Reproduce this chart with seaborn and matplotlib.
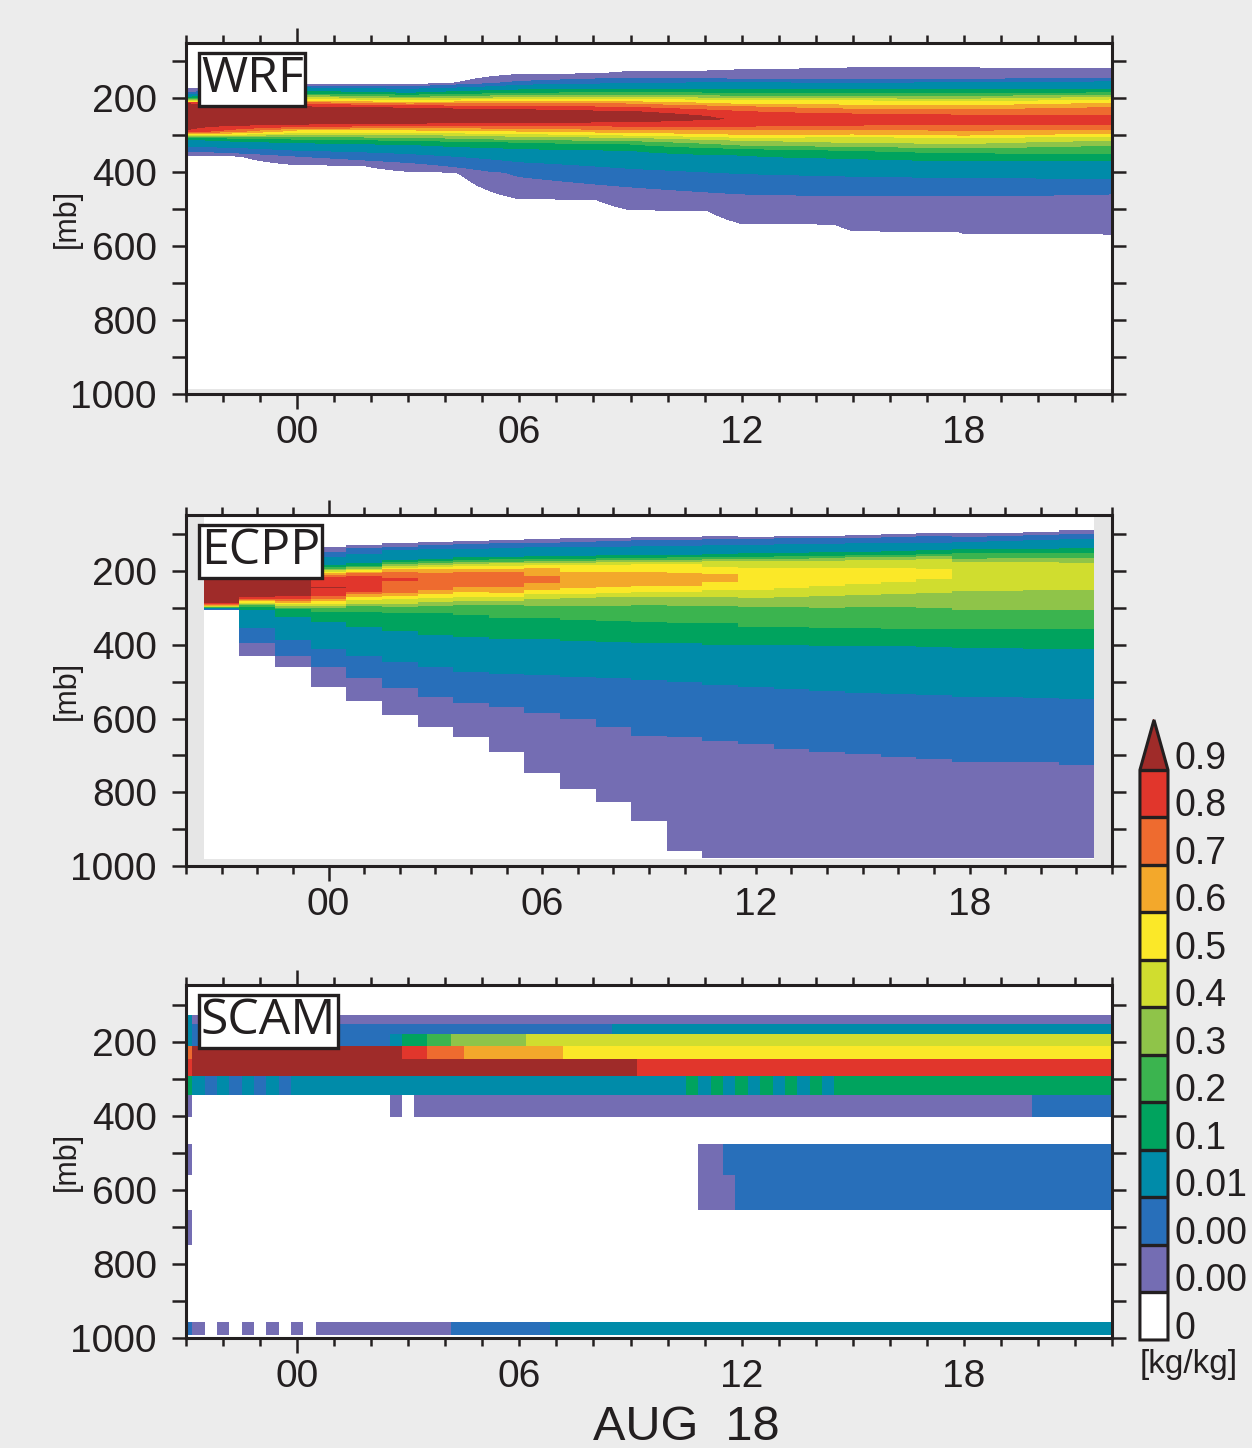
import numpy as np
import matplotlib
matplotlib.use("Agg")
import matplotlib.pyplot as plt
import seaborn as sns
from matplotlib.colors import ListedColormap, BoundaryNorm
from matplotlib.cm import ScalarMappable
from matplotlib.ticker import FixedLocator, MultipleLocator
from matplotlib.transforms import blended_transform_factory, offset_copy

sns.set_theme(style="white")
plt.rcParams['font.family'] = ['Liberation Sans', 'DejaVu Sans']

# colour classes: white, purple, blue, teal, dkgreen, green, ltgreen, ygreen, yellow, ltorange, orange, red, darkred
colors = ['#ffffff', '#746db3', '#286fba', '#008ba9', '#00a35e', '#3bb44f', '#8fc449',
          '#d0dd2f', '#fbe828', '#f3a82b', '#ee6b2f', '#e1362c', '#9f2b29']
bounds = [0, 0.001, 0.005, 0.01, 0.1, 0.2, 0.3, 0.4, 0.5, 0.6, 0.7, 0.8, 0.9]
bound_labels = ['0', '0.00', '0.00', '0.01', '0.1', '0.2', '0.3', '0.4', '0.5', '0.6', '0.7', '0.8', '0.9']

# WRF: pressure [mb] of top / bottom edge of each class (purple ... darkred), per time
wrf_hours = [-3, 0, 3, 6, 9, 12, 15, 18, 22]
wrf_top = [[175, 186, 192, 198, 202, 204, 207, 209, 211, 212, 213, 214],
           [163, 168, 172, 182, 189, 193, 198, 203, 208, 212, 216, 222],
           [163, 169, 176, 187, 192, 198, 202, 207, 212, 216, 221, 227],
           [136, 155, 165, 178, 187, 193, 199, 203, 208, 214, 222, 231],
           [128, 146, 160, 176, 185, 192, 198, 203, 210, 216, 225, 236],
           [122, 149, 158, 178, 187, 195, 201, 207, 217, 223, 236],
           [117, 149, 160, 178, 187, 196, 202, 207, 219, 230, 243],
           [117, 150, 158, 178, 187, 196, 203, 210, 221, 231, 246],
           [120, 147, 156, 177, 186, 192, 198, 205, 214, 225, 246]]
wrf_bot = [[354, 343, 330, 310, 307, 304, 302, 299, 297, 294, 291, 288],
           [380, 357, 341, 320, 311, 304, 298, 293, 286, 282, 277, 271],
           [398, 374, 350, 325, 314, 306, 298, 293, 286, 279, 274, 268],
           [472, 412, 372, 336, 319, 312, 303, 296, 289, 282, 273, 266],
           [502, 440, 390, 341, 324, 315, 306, 300, 293, 285, 276, 264],
           [539, 459, 404, 354, 336, 327, 314, 306, 298, 285, 276],
           [559, 464, 411, 363, 341, 331, 320, 304, 297, 285, 273],
           [566, 464, 415, 369, 348, 334, 323, 306, 300, 287, 270],
           [570, 459, 417, 370, 350, 327, 314, 303, 296, 284, 270]]

# ECPP: hourly columns
ecpp_hours = list(range(-3, 22))
ecpp_top = [[180, 185, 190, 195, 198, 201, 204, 207, 210, 212, 214, 222],
            [165, 172, 180, 190, 195, 199, 203, 206, 209, 212, 214, 222],
            [150, 160, 170, 185, 190, 194, 198, 202, 206, 209, 212, 215],
            [136, 148, 161, 184, 190, 195, 197, 202, 206, 210, 215, 243],
            [129, 138, 154, 179, 186, 190, 193, 197, 202, 206, 214],
            [123, 134, 143, 170, 176, 182, 186, 191, 195, 202, 220],
            [120, 130, 141, 166, 173, 179, 184, 188, 195, 205],
            [118, 127, 139, 161, 170, 176, 181, 186, 193, 202],
            [116, 125, 137, 161, 168, 175, 179, 186, 193, 202],
            [114, 123, 136, 159, 166, 173, 177, 184, 191, 214],
            [111, 120, 134, 159, 166, 173, 177, 184, 202],
            [110, 119, 134, 157, 165, 171, 176, 184, 202],
            [108, 117, 132, 157, 164, 170, 175, 182, 202],
            [107, 116, 131, 155, 163, 169, 174, 181, 204],
            [105, 114, 130, 154, 161, 167, 172, 190, 208],
            [107, 114, 129, 152, 161, 167, 173, 191],
            [104, 111, 127, 150, 159, 166, 172, 191],
            [104, 111, 127, 149, 158, 165, 172, 191],
            [102, 109, 125, 147, 156, 163, 170, 191],
            [100, 107, 123, 146, 155, 162, 169, 191],
            [98, 105, 123, 143, 153, 160, 168, 195],
            [98, 107, 120, 141, 152, 166, 175],
            [96, 105, 118, 140, 151, 164, 175],
            [93, 103, 116, 139, 150, 164, 175],
            [89, 100, 114, 138, 150, 164, 177]]
ecpp_bot = [[306, 305, 304, 301, 299, 298, 297, 296, 294, 292, 290, 287],
            [430, 394, 355, 306, 297, 293, 290, 286, 282, 279, 276, 270],
            [459, 430, 387, 324, 304, 299, 295, 290, 286, 280, 276, 268],
            [514, 459, 410, 337, 310, 301, 295, 288, 280, 275, 268, 246],
            [553, 491, 430, 351, 310, 295, 288, 279, 270, 263, 256],
            [590, 518, 446, 363, 315, 297, 288, 277, 268, 259, 226],
            [622, 541, 459, 374, 315, 295, 283, 272, 261, 250],
            [649, 559, 473, 378, 319, 292, 280, 270, 256, 244],
            [690, 568, 478, 383, 326, 292, 280, 270, 259, 244],
            [747, 586, 482, 385, 328, 295, 277, 262, 250, 232],
            [792, 600, 487, 389, 333, 295, 274, 261, 247],
            [826, 622, 491, 392, 335, 295, 271, 259, 244],
            [877, 647, 496, 394, 337, 292, 270, 256, 241],
            [958, 649, 500, 396, 340, 295, 271, 256, 241],
            [979, 660, 509, 401, 342, 295, 270, 251, 229],
            [979, 669, 514, 401, 351, 297, 272, 251],
            [979, 683, 520, 401, 351, 297, 270, 245],
            [979, 690, 525, 402, 354, 299, 268, 240],
            [979, 696, 530, 402, 355, 298, 265, 235],
            [979, 703, 532, 403, 357, 297, 261, 229],
            [979, 710, 536, 407, 357, 299, 259, 222],
            [979, 717, 541, 408, 358, 306, 253],
            [979, 717, 541, 408, 358, 306, 253],
            [979, 717, 543, 410, 357, 306, 251],
            [979, 726, 547, 411, 357, 306, 251]]

# SCAM: 20-min output, layers with runs of (end hour, class)
scam_p_edges = [127, 151, 178, 210, 246, 291, 343, 404, 476, 560, 654, 749, 958, 993]
scam_runs = [
    [(-2.83, 'te'), (23, 'pu')],
    [(-2.83, 'te'), (8.5, 'bl'), (23, 'te')],
    [(-2.83, 'te'), (2.5, 'bl'), (2.83, 'te'), (3.5, 'dg'), (4.17, 'gr'), (6.17, 'lg'), (23, 'yg')],
    [(-2.83, 'or'), (2.83, 'dr'), (3.5, 're'), (4.5, 'or'), (7.17, 'lo'), (23, 'ye')],
    [(-2.83, 're'), (9.17, 'dr'), (23, 're')],
    [(-2.83, 'dg'), (-2.5, 'te'), (-2.17, 'bl'), (-1.83, 'te'), (-1.5, 'bl'), (-1.17, 'te'),
     (-0.83, 'bl'), (-0.5, 'te'), (-0.17, 'bl'), (10.5, 'te'), (10.83, 'dg'), (11.17, 'te'),
     (11.5, 'dg'), (11.83, 'te'), (12.17, 'dg'), (12.5, 'te'), (12.83, 'dg'), (13.17, 'te'),
     (13.5, 'dg'), (13.83, 'te'), (14.17, 'dg'), (14.5, 'te'), (23, 'dg')],
    [(-2.83, 'pu'), (2.5, 'w'), (2.83, 'pu'), (3.17, 'w'), (19.83, 'pu'), (23, 'bl')],
    [(23, 'w')],
    [(-2.83, 'pu'), (10.83, 'w'), (11.5, 'pu'), (23, 'bl')],
    [(10.83, 'w'), (11.83, 'pu'), (23, 'bl')],
    [(-2.83, 'pu'), (23, 'w')],
    [(23, 'w')],
    [(-2.83, 'bl'), (-2.5, 'pu'), (-2.17, 'w'), (-1.83, 'pu'), (-1.5, 'w'), (-1.17, 'pu'),
     (-0.83, 'w'), (-0.5, 'pu'), (-0.17, 'w'), (0.17, 'pu'), (0.5, 'w'), (4.17, 'pu'),
     (6.83, 'bl'), (23, 'te')],
]
codes = {'w': 0, 'pu': 1, 'bl': 2, 'te': 3, 'dg': 4, 'gr': 5, 'lg': 6, 'yg': 7,
         'ye': 8, 'lo': 9, 'or': 10, 're': 11, 'dr': 12}

INK = '#231f20'
cmap = ListedColormap(colors)
cnorm = BoundaryNorm(np.arange(-0.5, 13.5, 1), 13)
class_levels = np.concatenate([[-1.5], np.arange(0.5, 13.5, 1)])


def pad(rows):
    return [r + [np.nan] * (12 - len(r)) for r in rows]


def band_field(tops, bots, p):
    # class index at each pressure, one column per time
    tops = np.array(pad(tops), float).T
    bots = np.array(pad(bots), float).T
    cat = np.zeros((len(p), tops.shape[1]))
    for k in range(12):
        inside = (p[:, None] >= tops[k]) & (p[:, None] <= bots[k])
        cat[inside] = k + 1
    return cat


def edge_field(tops, bots, p):
    # continuous class coordinate whose half-levels sit on the read edges
    out = np.zeros((len(p), len(tops)))
    for j, (tt, bb) in enumerate(zip(tops, bots)):
        tt = np.array(tt, float)
        bb = np.array(bb, float)
        ks = np.arange(1, len(tt) + 1)
        top_class = ks[-1]
        center = 0.5 * (tt[-1] + bb[-1])
        up_p = np.concatenate([[tt[0] - 3], tt, [center]])
        up_v = np.concatenate([[-0.5], ks - 0.5, [top_class + 0.4]])
        lo_p = np.concatenate([[center], bb[::-1], [bb[0] + 3]])
        lo_v = np.concatenate([[top_class + 0.4], (ks - 0.5)[::-1], [-0.5]])
        out[:, j] = np.where(p <= center, np.interp(p, up_p, up_v), np.interp(p, lo_p, lo_v))
    return out


def style(ax, xmin, ptop, face):
    ax.set_facecolor(face)
    ax.set_xlim(xmin, 22)
    ax.set_ylim(1000, ptop)
    ax.set_yticks([200, 400, 600, 800, 1000])
    ax.set_yticklabels(['200', '400', '600', '800', '1000'])
    ax.yaxis.set_minor_locator(FixedLocator([100, 300, 500, 700, 900]))
    ax.tick_params(axis='y', which='both', direction='out', length=10, width=1.8,
                   left=True, right=True, labelsize=28, pad=11, color=INK, labelcolor=INK)
    ax.set_xticks([0, 6, 12, 18])
    ax.set_xticklabels(['00', '06', '12', '18'])
    ax.xaxis.set_minor_locator(MultipleLocator(1))
    ax.tick_params(axis='x', which='both', direction='out', length=5.8, width=1.8,
                   top=True, bottom=True, labelsize=28, pad=9, color=INK, labelcolor=INK)
    for tick, v in zip(ax.xaxis.get_major_ticks(), [0, 6, 12, 18]):
        if v == 0:
            tick.tick1line.set_markersize(11)
            tick.tick2line.set_markersize(11)
    for sp in ax.spines.values():
        sp.set_linewidth(2.2)
        sp.set_color(INK)
    ax.set_ylabel('[mb]', fontsize=22, color=INK)
    ax.yaxis.set_label_coords(-0.112, 0.5)
    ax.grid(False)


def panel_label(ax, txt):
    ax.text(0.016, 0.966, txt, transform=ax.transAxes, ha='left', va='top',
            fontsize=36, family=['Open Sans', 'DejaVu Sans'], color=INK, zorder=5,
            bbox=dict(boxstyle='square,pad=0.03', fc='white', ec=INK, lw=2.4))


fig = plt.figure(figsize=(12.52, 14.48), dpi=100, facecolor='#ececec')
ax1 = fig.add_axes([0.1486, 0.7279, 0.7396, 0.2424])
ax2 = fig.add_axes([0.1486, 0.4019, 0.7396, 0.2424])
ax3 = fig.add_axes([0.1486, 0.0760, 0.7396, 0.2438])

# WRF
p_wrf = np.arange(45, 986, 1.0)
ax1.contourf(wrf_hours, p_wrf, edge_field(wrf_top, wrf_bot, p_wrf),
             levels=class_levels, colors=colors, antialiased=False)
style(ax1, -3, 51, '#e6e6e6')
panel_label(ax1, 'WRF')

# ECPP
p_edges = np.arange(40, 981, 1.0)
p_mid = 0.5 * (p_edges[:-1] + p_edges[1:])
x_edges = np.append(np.array(ecpp_hours) - 0.5, ecpp_hours[-1] + 0.5)
ax2.pcolormesh(x_edges, p_edges, band_field(ecpp_top, ecpp_bot, p_mid),
               cmap=cmap, norm=cnorm, shading='flat')
style(ax2, -4, 48, '#e6e6e6')
panel_label(ax2, 'ECPP')

# SCAM
t_mid = -3 + np.arange(76) / 3.0
t_edges = np.append(t_mid - 1 / 6, t_mid[-1] + 1 / 6)
scam = np.zeros((len(scam_runs), len(t_mid)))
for i, runs in enumerate(scam_runs):
    for j, t in enumerate(t_mid):
        for end, c in runs:
            if t < end:
                scam[i, j] = codes[c]
                break
ax3.pcolormesh(t_edges, scam_p_edges, scam, cmap=cmap, norm=cnorm, shading='flat')
style(ax3, -3, 46, 'white')
panel_label(ax3, 'SCAM')

fig.text(686 / 1252, 1 - 1427 / 1448, 'AUG  18', fontsize=35, ha='center', va='center', color=INK)

# colour bar
cax = fig.add_axes([0.9105, 0.0746, 0.0224, 0.4282])
bar_cmap = ListedColormap(colors[:12])
bar_cmap.set_over(colors[12])
sm = ScalarMappable(norm=BoundaryNorm(bounds, 12), cmap=bar_cmap)
cbar = fig.colorbar(sm, cax=cax, extend='max', extendfrac=0.0877, spacing='uniform',
                    drawedges=True, ticks=bounds)
cbar.outline.set_linewidth(2.2)
cbar.outline.set_edgecolor(INK)
cbar.dividers.set_linewidth(2.4)
cbar.dividers.set_color(INK)
cax.tick_params(length=0, labelright=False, right=False)
trans = offset_copy(blended_transform_factory(cax.transAxes, cax.transData),
                    fig=fig, x=0, y=11, units='dots')
for b, lab in zip(bounds, bound_labels):
    cax.text(1.22, b, lab, transform=trans, ha='left', va='center', fontsize=27,
             color=INK, clip_on=False)
fig.text(1140 / 1252, 1 - 1365 / 1448, '[kg/kg]', fontsize=24, ha='left', va='center', color=INK)

fig.savefig('out.png', dpi=100, facecolor=fig.get_facecolor())
